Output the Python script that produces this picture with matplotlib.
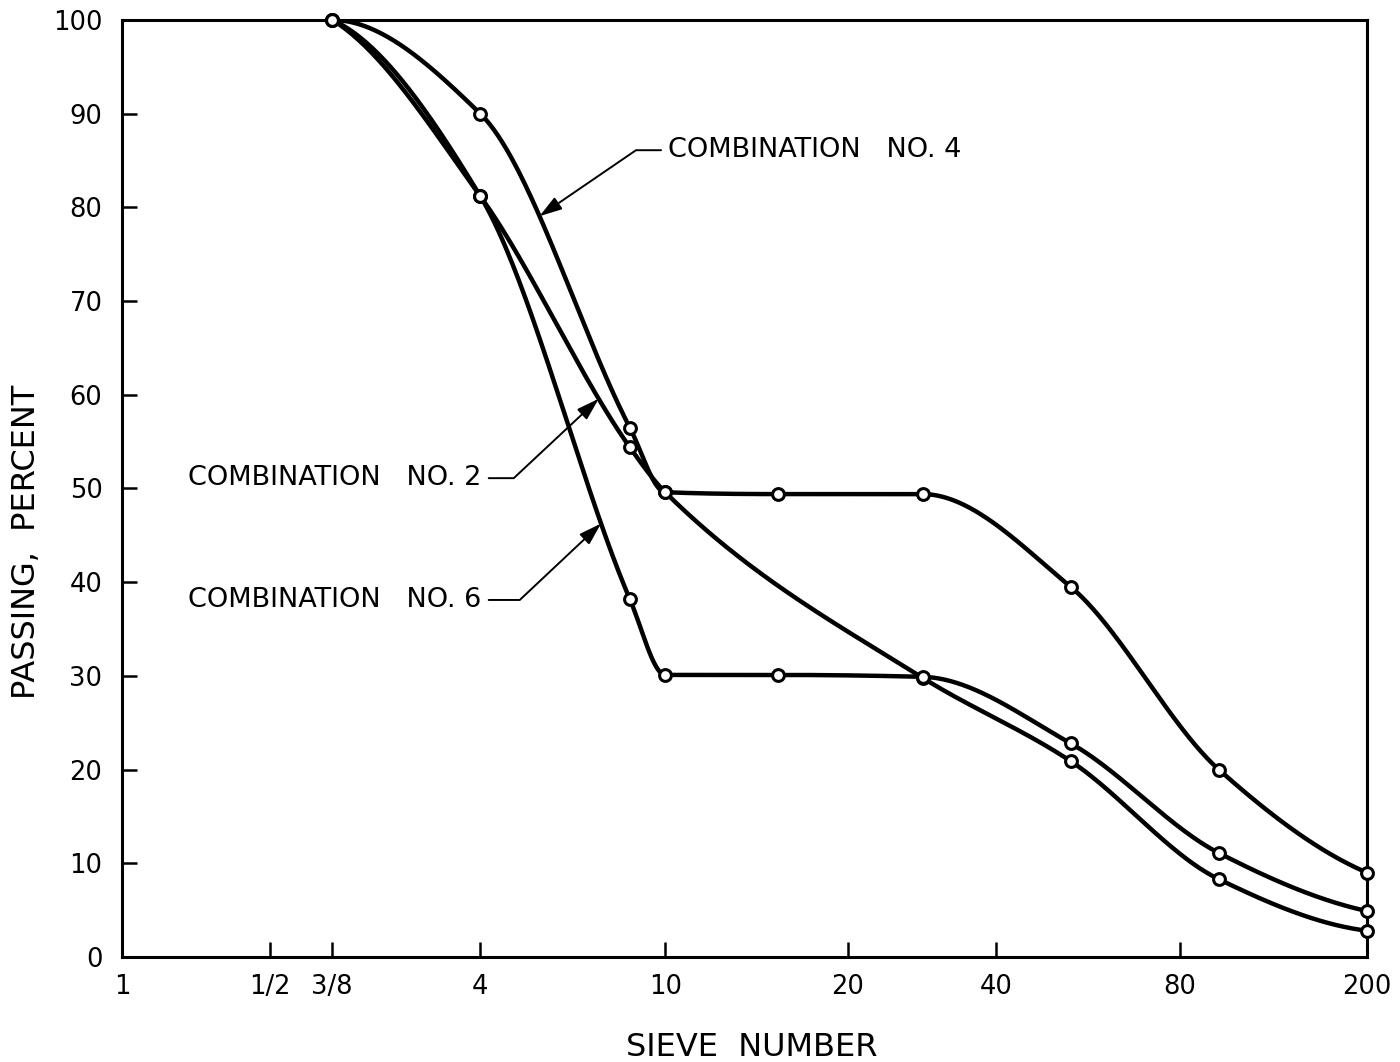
import numpy as np
import matplotlib
matplotlib.use("Agg")
import matplotlib.pyplot as plt

# === Gradation data ===
# sieve openings in mm, used for the log x position
sieve_labels = ["1", "1/2", "3/8", "4", "10", "20", "40", "80", "200"]
sieve_ticks_mm = [25.4, 12.7, 9.5, 4.75, 2.0, 0.85, 0.425, 0.18, 0.075]

combo4_mm = [9.5, 4.75, 2.36, 2.0, 1.18, 0.6, 0.3, 0.15, 0.075]
combo4_pass = [100, 90.0, 56.5, 49.6, 49.4, 49.4, 39.5, 20.0, 9.0]

combo2_mm = [9.5, 4.75, 2.36, 2.0, 0.6, 0.3, 0.15, 0.075]
combo2_pass = [100, 81.2, 54.4, 49.6, 29.8, 20.9, 8.3, 2.8]

combo6_mm = [9.5, 4.75, 2.36, 2.0, 1.18, 0.6, 0.3, 0.15, 0.075]
combo6_pass = [100, 81.2, 38.2, 30.1, 30.1, 29.9, 22.8, 11.1, 4.9]

y_ticks = list(range(0, 101, 10))


def pchip(x, y, xn):
    # monotone cubic (Fritsch-Carlson) so the flat runs stay flat like the drawn curves
    x = np.asarray(x, float)
    y = np.asarray(y, float)
    h = np.diff(x)
    d = np.diff(y) / h
    n = len(x)
    m = np.zeros(n)
    for k in range(1, n - 1):
        if d[k - 1] * d[k] <= 0:
            m[k] = 0.0
        else:
            w1 = 2 * h[k] + h[k - 1]
            w2 = h[k] + 2 * h[k - 1]
            m[k] = (w1 + w2) / (w1 / d[k - 1] + w2 / d[k])

    def end_slope(h0, h1, d0, d1):
        s = ((2 * h0 + h1) * d0 - h0 * d1) / (h0 + h1)
        if np.sign(s) != np.sign(d0):
            return 0.0
        if np.sign(d0) != np.sign(d1) and abs(s) > abs(3 * d0):
            return 3 * d0
        return s

    # start of the curves leaves the 100% point gently (French-curve look)
    s0 = end_slope(h[0], h[1], d[0], d[1])
    m[0] = s0 if abs(s0) < abs(0.5 * d[0]) else 0.5 * d[0]
    m[-1] = end_slope(h[-1], h[-2], d[-1], d[-2])

    idx = np.clip(np.searchsorted(x, xn) - 1, 0, n - 2)
    t = (xn - x[idx]) / h[idx]
    h00 = 2 * t**3 - 3 * t**2 + 1
    h10 = t**3 - 2 * t**2 + t
    h01 = -2 * t**3 + 3 * t**2
    h11 = t**3 - t**2
    return (h00 * y[idx] + h10 * h[idx] * m[idx]
            + h01 * y[idx + 1] + h11 * h[idx] * m[idx + 1])


def smooth_curve(mm, passing):
    u = -np.log10(mm)  # increasing to the right (finer sieves)
    un = np.linspace(u[0], u[-1], 500)
    return 10 ** (-un), pchip(u, passing, un)


def curve_y(mm, passing, at_mm):
    u = -np.log10(mm)
    return float(pchip(u, passing, np.array([-np.log10(at_mm)]))[0])


plt.rcParams["font.family"] = ["DejaVu Sans"]

fig = plt.figure(figsize=(14, 10.62), dpi=100)
ax = fig.add_axes([0.0871, 0.0989, 0.8893, 0.8823])

# === Curves ===
series = [(combo4_mm, combo4_pass), (combo2_mm, combo2_pass), (combo6_mm, combo6_pass)]
for mm, passing in series:
    xs, ys = smooth_curve(mm, passing)
    ax.plot(xs, ys, color="black", lw=3.2, solid_capstyle="round", zorder=3)
for mm, passing in series:
    ax.plot(mm, passing, "o", ms=8.5, mfc="white", mec="black", mew=2.2,
            clip_on=False, zorder=4)

ax.set_xscale("log")
ax.set_xlim(25.4, 0.075)
ax.set_ylim(0, 100)

ax.set_xticks(sieve_ticks_mm)
ax.set_xticklabels(sieve_labels)
ax.xaxis.set_minor_locator(matplotlib.ticker.NullLocator())
ax.set_yticks(y_ticks)
ax.tick_params(direction="in", length=11, width=1.8, labelsize=18.5, pad=12)
ax.tick_params(axis="y", pad=14)

for sp in ax.spines.values():
    sp.set_linewidth(2.2)

ax.set_xlabel("SIEVE  NUMBER", fontsize=23)
ax.xaxis.set_label_coords(0.506, -0.080)
ax.set_ylabel("PASSING,  PERCENT", fontsize=23)
ax.yaxis.set_label_coords(-0.064, 0.443)

# === Curve labels with leader arrows ===
arrow = dict(arrowstyle="-|>,head_length=0.7,head_width=0.22", color="black",
             lw=1.4, shrinkA=3, shrinkB=0)

tgt4 = 3.6
ax.annotate("COMBINATION   NO. 4", xy=(tgt4, curve_y(combo4_mm, combo4_pass, tgt4)),
            xycoords="data", xytext=(0.4386, 0.861), textcoords="axes fraction",
            ha="left", va="center", fontsize=19.5,
            arrowprops=dict(arrow, relpos=(0, 0.5),
                            connectionstyle="arc,angleA=180,armA=32,rad=0"))

tgt2 = 2.73
ax.annotate("COMBINATION   NO. 2", xy=(tgt2, curve_y(combo2_mm, combo2_pass, tgt2)),
            xycoords="data", xytext=(0.289, 0.511), textcoords="axes fraction",
            ha="right", va="center", fontsize=19.5,
            arrowprops=dict(arrow, relpos=(1, 0.5),
                            connectionstyle="arc,angleA=0,armA=32,rad=0"))

tgt6 = 2.7
ax.annotate("COMBINATION   NO. 6", xy=(tgt6, curve_y(combo6_mm, combo6_pass, tgt6)),
            xycoords="data", xytext=(0.289, 0.381), textcoords="axes fraction",
            ha="right", va="center", fontsize=19.5,
            arrowprops=dict(arrow, relpos=(1, 0.5),
                            connectionstyle="arc,angleA=0,armA=38,rad=0"))

fig.savefig("out.png", dpi=100)
